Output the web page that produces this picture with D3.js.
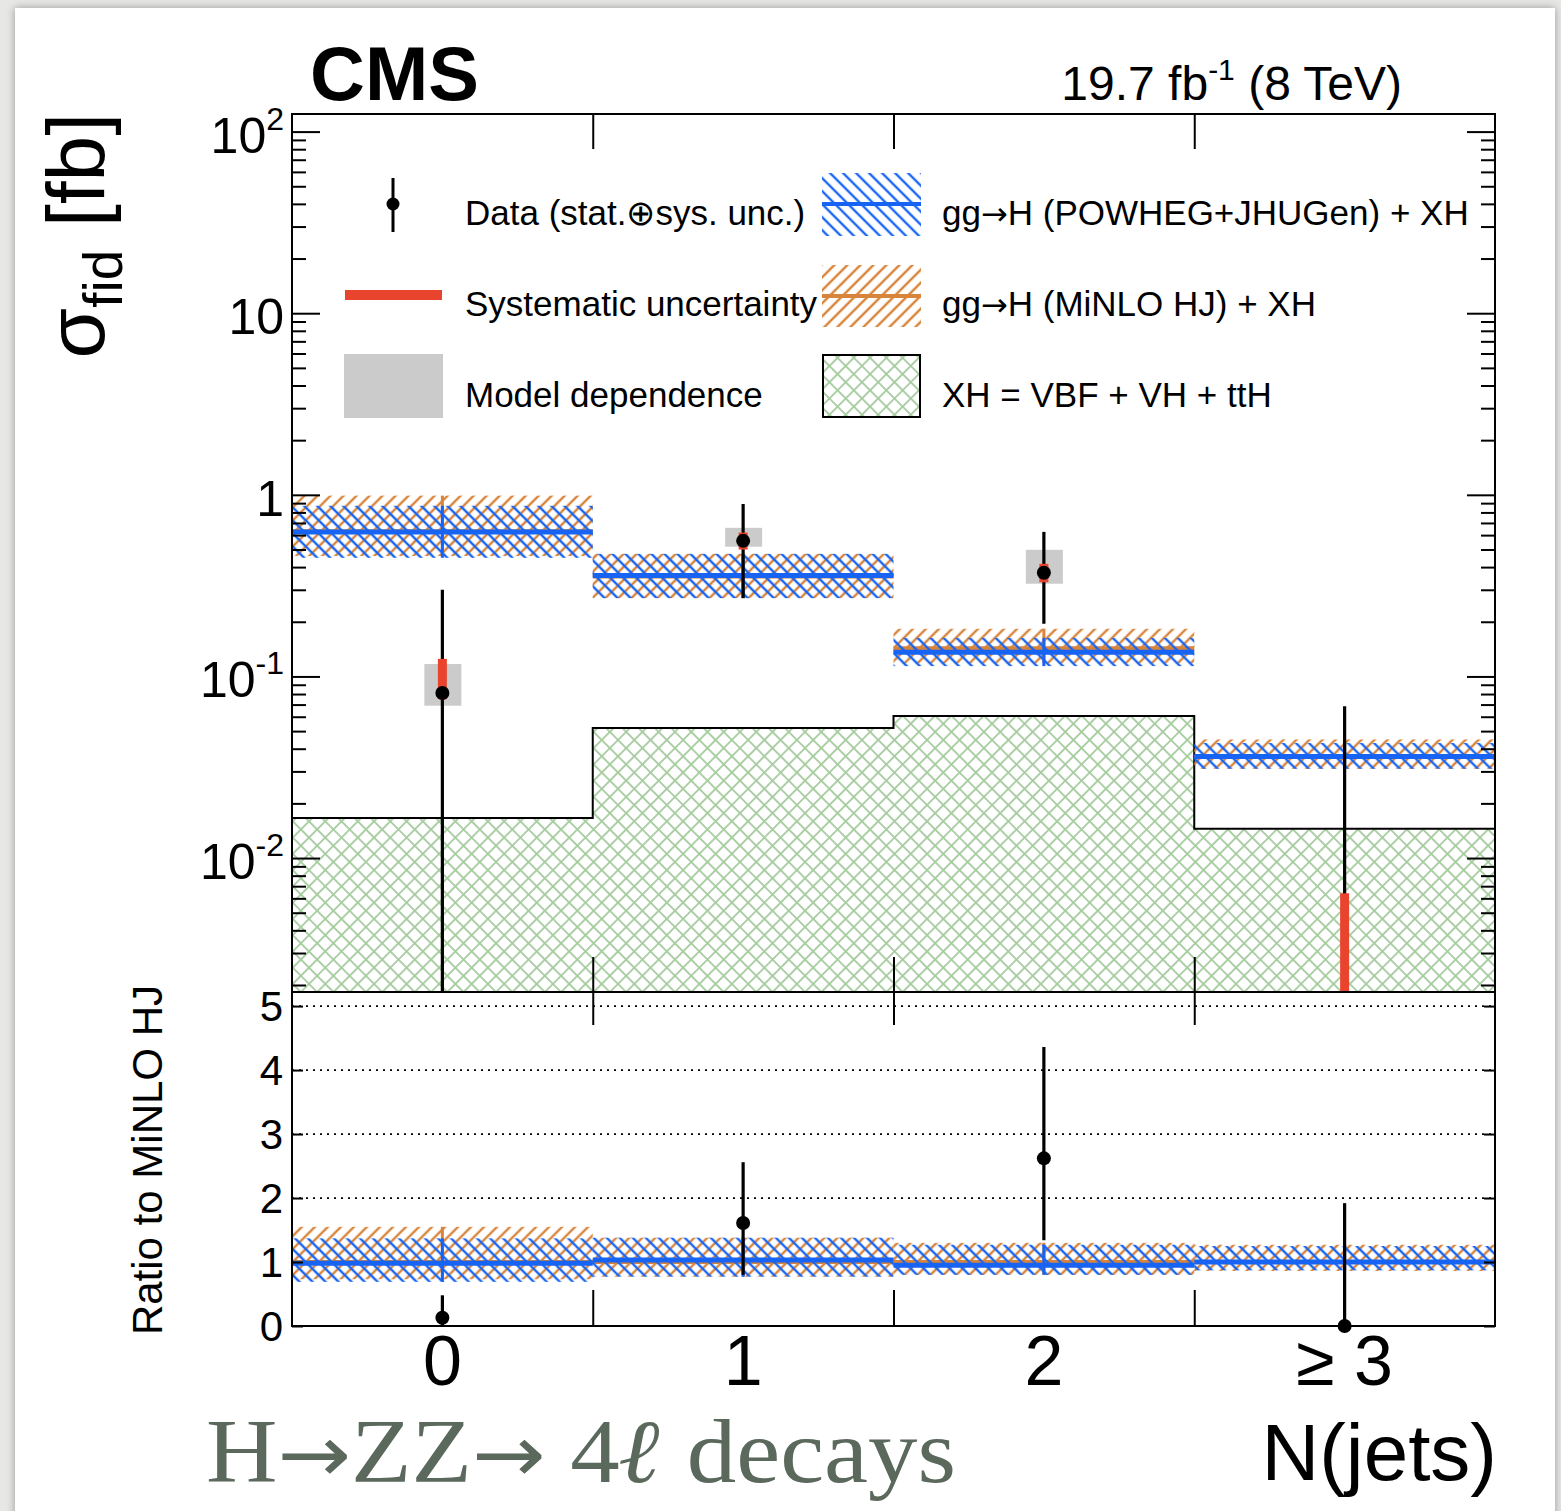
<!DOCTYPE html>
<html>
<head>
<meta charset="utf-8">
<script src="https://cdn.jsdelivr.net/npm/d3@7"></script>
<style>
  body { margin: 0; background: #e7e7e5; }
  svg { display: block; }
  text { font-family: "Liberation Sans", Arial, sans-serif; fill: #000; }
</style>
</head>
<body>
<div id="chart"></div>
<script>
// jet bins
var bins = ["0", "1", "2", "\u2265 3"];
var binCenters = [0, 1, 2, 3];
var binEdges = [0.5, 1.5, 2.5];

// predictions (fb)
var powheg   = [0.625, 0.36, 0.136, 0.0362];
var powhegLo = [0.45, 0.27, 0.114, 0.031];
var powhegHi = [0.87, 0.473, 0.163, 0.043];
var minlo    = [0.63, 0.355, 0.143, 0.036];
var minloLo  = [0.46, 0.27, 0.118, 0.031];
var minloHi  = [0.99, 0.473, 0.183, 0.045];
var xh       = [0.0166, 0.052, 0.0606, 0.0145];

// measurement (fb)
var dataVal = [0.081, 0.558, 0.372, 0];
var dataLo  = [0, 0.27, 0.195, 0];
var dataHi  = [0.30, 0.89, 0.625, 0.0686];
var systLo  = [0.075, 0.5, 0.33, 0];
var systHi  = [0.125, 0.62, 0.417, 0.0064];
var modelLo = [0.069, 0.518, 0.324, 0];
var modelHi = [0.117, 0.658, 0.498, 0];

// ratio to MiNLO HJ
var ratioVal = [0.13, 1.61, 2.62, 0];
var ratioLo  = [0, 0.8, 1.34, 0];
var ratioHi  = [0.48, 2.56, 4.36, 1.92];
var ratioPowheg   = [0.98, 1.03, 0.95, 1.0];
var ratioPowhegLo = [0.69, 0.77, 0.8, 0.87];
var ratioPowhegHi = [1.37, 1.38, 1.27, 1.25];
var ratioMinlo    = [1, 1, 1, 1];
var ratioMinloLo  = [0.73, 0.77, 0.8, 0.86];
var ratioMinloHi  = [1.55, 1.38, 1.3, 1.27];

// axis ticks
var upperTicks = [100, 10, 1, 0.1, 0.01];
var upperTickBase = ["10", "10", "1", "10", "10"];
var upperTickExp = ["2", "", "", "-1", "-2"];
var ratioTicks = [0, 1, 2, 3, 4, 5];

var BLUE = "#1764f4", ORANGE = "#d8843a", GREEN = "#a6cc9e", RED = "#e9442e", GRAY = "#cbcbcb";
var ARROW_FONT = "'DejaVu Sans', sans-serif";

function init()
{
  var W = 1561, H = 1511;
  var L = 292, R = 1495, T = 114, B1 = 992, B2 = 1326;

  var svg = d3.select("#chart").append("svg")
    .attr("width", W)
    .attr("height", H);

  var defs = svg.append("defs");

  var shadow = defs.append("filter").attr("id", "shadow")
    .attr("x", "-5%").attr("y", "-5%").attr("width", "110%").attr("height", "110%");
  shadow.append("feDropShadow")
    .attr("dx", 0).attr("dy", 0).attr("stdDeviation", 4)
    .attr("flood-color", "#000").attr("flood-opacity", 0.35);

  function hatch(id, color, angle, size, width, cross) {
    var p = defs.append("pattern")
      .attr("id", id)
      .attr("patternUnits", "userSpaceOnUse")
      .attr("width", size).attr("height", size)
      .attr("patternTransform", "rotate(" + angle + ")");
    p.append("line")
      .attr("x1", size / 2).attr("y1", 0).attr("x2", size / 2).attr("y2", size)
      .attr("stroke", color).attr("stroke-width", width);
    if (cross) {
      p.append("line")
        .attr("x1", 0).attr("y1", size / 2).attr("x2", size).attr("y2", size / 2)
        .attr("stroke", color).attr("stroke-width", width);
    }
  }
  hatch("hBlue", BLUE, -45, 9.2, 2.4, false);
  hatch("hOrange", ORANGE, 45, 9.2, 2.4, false);
  hatch("hGreen", GREEN, 45, 11.5, 1.8, true);

  // card background
  svg.append("rect")
    .attr("x", 15).attr("y", 8)
    .attr("width", 1540).attr("height", H + 20)
    .attr("fill", "#fff")
    .attr("filter", "url(#shadow)");

  var x = d3.scaleLinear().domain([-0.5, 3.5]).range([L, R]);
  var y = d3.scaleLog().domain([0.00183, 125]).range([B1, T]).clamp(true);
  var ry = d3.scaleLinear().domain([0, 5.22]).range([B2, B1]);
  var bw = x(1) - x(0);

  function yv(v) { return v <= 0 ? B1 : y(v); }

  // ---------- upper pad ----------
  var up = svg.append("g");

  // XH histogram
  var stepData = xh.map(function(v, i) { return {e: i - 0.5, v: v}; });
  stepData.push({e: 3.5, v: xh[xh.length - 1]});

  up.append("path")
    .datum(stepData)
    .attr("d", d3.area().curve(d3.curveStepAfter)
      .x(function(d) { return x(d.e); })
      .y0(B1)
      .y1(function(d) { return y(d.v); }))
    .attr("fill", "url(#hGreen)");

  up.append("path")
    .datum(stepData)
    .attr("d", d3.line().curve(d3.curveStepAfter)
      .x(function(d) { return x(d.e); })
      .y(function(d) { return y(d.v); }))
    .attr("fill", "none")
    .attr("stroke", "#000")
    .attr("stroke-width", 2);

  function drawPrediction(g, sy, val, lo, hi, color, pat, lw) {
    g.selectAll(null).data(binCenters).enter().append("rect")
      .attr("x", function(d) { return x(d - 0.5); })
      .attr("width", bw)
      .attr("y", function(d, i) { return sy(hi[i]); })
      .attr("height", function(d, i) { return sy(lo[i]) - sy(hi[i]); })
      .attr("fill", "url(#" + pat + ")");
    g.selectAll(null).data(binCenters).enter().append("line")
      .attr("x1", function(d) { return x(d); })
      .attr("x2", function(d) { return x(d); })
      .attr("y1", function(d, i) { return sy(hi[i]); })
      .attr("y2", function(d, i) { return sy(lo[i]); })
      .attr("stroke", color).attr("stroke-width", 3);
    g.selectAll(null).data(binCenters).enter().append("line")
      .attr("x1", function(d) { return x(d - 0.5); })
      .attr("x2", function(d) { return x(d + 0.5); })
      .attr("y1", function(d, i) { return sy(val[i]); })
      .attr("y2", function(d, i) { return sy(val[i]); })
      .attr("stroke", color).attr("stroke-width", lw);
  }

  drawPrediction(up, y, minlo, minloLo, minloHi, ORANGE, "hOrange", 4);
  drawPrediction(up, y, powheg, powhegLo, powhegHi, BLUE, "hBlue", 5);

  // model dependence boxes
  up.selectAll(null).data(binCenters.filter(function(d, i) { return modelHi[i] > 0; }))
    .enter().append("rect")
    .attr("x", function(d) { return x(d) - 18; })
    .attr("width", 37)
    .attr("y", function(d) { return y(modelHi[d]); })
    .attr("height", function(d) { return y(modelLo[d]) - y(modelHi[d]); })
    .attr("fill", GRAY);

  // total uncertainty
  up.selectAll(null).data(binCenters).enter().append("line")
    .attr("x1", function(d) { return x(d); })
    .attr("x2", function(d) { return x(d); })
    .attr("y1", function(d, i) { return yv(dataHi[i]); })
    .attr("y2", function(d, i) { return yv(dataLo[i]); })
    .attr("stroke", "#000").attr("stroke-width", 3.2);

  // systematic
  up.selectAll(null).data(binCenters).enter().append("line")
    .attr("x1", function(d) { return x(d); })
    .attr("x2", function(d) { return x(d); })
    .attr("y1", function(d, i) { return yv(systHi[i]); })
    .attr("y2", function(d, i) { return yv(systLo[i]); })
    .attr("stroke", RED).attr("stroke-width", 9);

  up.selectAll(null).data(binCenters.filter(function(d, i) { return dataVal[i] > 0; }))
    .enter().append("circle")
    .attr("cx", function(d) { return x(d); })
    .attr("cy", function(d) { return y(dataVal[d]); })
    .attr("r", 7)
    .attr("fill", "#000");

  // ---------- ratio pad ----------
  var lo = svg.append("g");

  lo.selectAll(null).data([1, 2, 3, 4, 5]).enter().append("line")
    .attr("x1", L).attr("x2", R)
    .attr("y1", function(d) { return ry(d); })
    .attr("y2", function(d) { return ry(d); })
    .attr("stroke", "#000").attr("stroke-width", 1.8)
    .attr("stroke-dasharray", "2,5");

  drawPrediction(lo, ry, ratioMinlo, ratioMinloLo, ratioMinloHi, ORANGE, "hOrange", 4);
  drawPrediction(lo, ry, ratioPowheg, ratioPowhegLo, ratioPowhegHi, BLUE, "hBlue", 5);

  lo.selectAll(null).data(binCenters).enter().append("line")
    .attr("x1", function(d) { return x(d); })
    .attr("x2", function(d) { return x(d); })
    .attr("y1", function(d, i) { return ry(ratioHi[i]); })
    .attr("y2", function(d, i) { return ry(ratioLo[i]); })
    .attr("stroke", "#000").attr("stroke-width", 3.2);

  lo.selectAll(null).data(binCenters).enter().append("circle")
    .attr("cx", function(d) { return x(d); })
    .attr("cy", function(d, i) { return ry(ratioVal[i]); })
    .attr("r", 7)
    .attr("fill", "#000");

  // ---------- axes ----------
  var minor = [];
  [0.001, 0.01, 0.1, 1, 10, 100].forEach(function(dec) {
    for (var k = 2; k <= 9; k++) {
      var v = k * dec;
      if (v > 0.00183 && v < 125) minor.push(v);
    }
  });

  function styleAxis(g) {
    g.select(".domain").remove();
    g.selectAll(".tick line").attr("stroke", "#000").attr("stroke-width", 2);
  }

  svg.append("g").attr("transform", "translate(" + L + ",0)")
    .call(d3.axisLeft(y).tickValues(upperTicks).tickSize(-28).tickFormat(""))
    .call(styleAxis);
  svg.append("g").attr("transform", "translate(" + L + ",0)")
    .call(d3.axisLeft(y).tickValues(minor).tickSize(-14).tickFormat(""))
    .call(styleAxis);
  svg.append("g").attr("transform", "translate(" + R + ",0)")
    .call(d3.axisRight(y).tickValues(upperTicks).tickSize(-28).tickFormat(""))
    .call(styleAxis);
  svg.append("g").attr("transform", "translate(" + R + ",0)")
    .call(d3.axisRight(y).tickValues(minor).tickSize(-14).tickFormat(""))
    .call(styleAxis);

  svg.append("g").attr("transform", "translate(0," + T + ")")
    .call(d3.axisTop(x).tickValues(binEdges).tickSize(-35).tickFormat(""))
    .call(styleAxis);
  svg.append("g").attr("transform", "translate(0," + B1 + ")")
    .call(d3.axisBottom(x).tickValues(binEdges).tickSize(-35).tickFormat(""))
    .call(styleAxis);
  svg.append("g").attr("transform", "translate(0," + B1 + ")")
    .call(d3.axisTop(x).tickValues(binEdges).tickSize(-33).tickFormat(""))
    .call(styleAxis);
  svg.append("g").attr("transform", "translate(0," + B2 + ")")
    .call(d3.axisBottom(x).tickValues(binEdges).tickSize(-36).tickFormat(""))
    .call(styleAxis);

  svg.append("g").attr("transform", "translate(" + L + ",0)")
    .call(d3.axisLeft(ry).tickValues(ratioTicks).tickSize(-11).tickFormat(""))
    .call(styleAxis);
  svg.append("g").attr("transform", "translate(" + R + ",0)")
    .call(d3.axisRight(ry).tickValues(ratioTicks).tickSize(-11).tickFormat(""))
    .call(styleAxis);

  // frames
  svg.append("rect")
    .attr("x", L).attr("y", T).attr("width", R - L).attr("height", B1 - T)
    .attr("fill", "none").attr("stroke", "#000").attr("stroke-width", 2);
  svg.append("rect")
    .attr("x", L).attr("y", B1).attr("width", R - L).attr("height", B2 - B1)
    .attr("fill", "none").attr("stroke", "#000").attr("stroke-width", 2);

  // tick labels
  upperTicks.forEach(function(v, i) {
    var t = svg.append("text")
      .attr("x", 284).attr("y", y(v) + 21)
      .attr("text-anchor", "end")
      .style("font-size", "50px");
    t.append("tspan").text(upperTickBase[i]);
    if (upperTickExp[i]) {
      t.append("tspan").attr("dy", -23).style("font-size", "32px").text(upperTickExp[i]);
    }
  });

  svg.selectAll(null).data(ratioTicks).enter().append("text")
    .attr("x", 283)
    .attr("y", function(d) { return ry(d) + 15; })
    .attr("text-anchor", "end")
    .style("font-size", "42px")
    .text(function(d) { return d; });

  svg.selectAll(null).data(binCenters).enter().append("text")
    .attr("x", function(d) { return x(d); })
    .attr("y", 1385)
    .attr("text-anchor", "middle")
    .style("font-size", "70px")
    .text(function(d, i) { return bins[i]; });

  // titles
  var yt = svg.append("text")
    .attr("transform", "translate(104,113) rotate(-90)")
    .attr("text-anchor", "end")
    .style("font-size", "82px");
  yt.append("tspan").text("\u03c3");
  yt.append("tspan").attr("dy", 18).style("font-size", "55px").text("fid");
  yt.append("tspan").attr("dy", -18).text(" [fb]");

  svg.append("text")
    .attr("transform", "translate(162,985) rotate(-90)")
    .attr("text-anchor", "end")
    .style("font-size", "42px")
    .text("Ratio to MiNLO HJ");

  svg.append("text")
    .attr("x", 1497).attr("y", 1480)
    .attr("text-anchor", "end")
    .style("font-size", "80px")
    .text("N(jets)");

  svg.append("text")
    .attr("x", 310).attr("y", 100)
    .style("font-size", "76px")
    .style("font-weight", "bold")
    .text("CMS");

  var lumi = svg.append("text")
    .attr("x", 1402).attr("y", 100)
    .attr("text-anchor", "end")
    .style("font-size", "48px");
  lumi.append("tspan").text("19.7 fb");
  lumi.append("tspan").attr("dy", -20).style("font-size", "30px").text("-1");
  lumi.append("tspan").attr("dy", 20).text(" (8 TeV)");

  var decay = svg.append("text")
    .attr("x", 206).attr("y", 1482)
    .attr("textLength", 750)
    .attr("lengthAdjust", "spacingAndGlyphs")
    .style("font-family", "'Liberation Serif', 'Times New Roman', serif")
    .style("font-size", "90px")
    .style("fill", "#5b695d");
  decay.append("tspan").text("H");
  decay.append("tspan").style("font-family", ARROW_FONT).style("font-size", "80px").text("\u2192");
  decay.append("tspan").text("ZZ");
  decay.append("tspan").style("font-family", ARROW_FONT).style("font-size", "80px").text("\u2192");
  decay.append("tspan").text(" 4");
  decay.append("tspan").style("font-family", "'DejaVu Serif', serif")
    .style("font-style", "italic").style("font-weight", "bold").text("\u2113");
  decay.append("tspan").text(" decays");

  // ---------- legend ----------
  var leg = svg.append("g");

  leg.append("line").attr("x1", 393).attr("x2", 393).attr("y1", 178).attr("y2", 232)
    .attr("stroke", "#000").attr("stroke-width", 3);
  leg.append("circle").attr("cx", 393).attr("cy", 204).attr("r", 6.5).attr("fill", "#000");

  leg.append("line").attr("x1", 345).attr("x2", 442).attr("y1", 295).attr("y2", 295)
    .attr("stroke", RED).attr("stroke-width", 10);

  leg.append("rect").attr("x", 344).attr("y", 354).attr("width", 99).attr("height", 64)
    .attr("fill", GRAY);

  leg.append("rect").attr("x", 822).attr("y", 173).attr("width", 99).attr("height", 63)
    .attr("fill", "url(#hBlue)");
  leg.append("line").attr("x1", 822).attr("x2", 921).attr("y1", 204).attr("y2", 204)
    .attr("stroke", BLUE).attr("stroke-width", 4);

  leg.append("rect").attr("x", 822).attr("y", 265).attr("width", 99).attr("height", 62)
    .attr("fill", "url(#hOrange)");
  leg.append("line").attr("x1", 822).attr("x2", 921).attr("y1", 296).attr("y2", 296)
    .attr("stroke", ORANGE).attr("stroke-width", 4);

  leg.append("rect").attr("x", 823).attr("y", 355).attr("width", 97).attr("height", 62)
    .attr("fill", "url(#hGreen)")
    .attr("stroke", "#000").attr("stroke-width", 2);

  var legText = [
    {x: 465, y: 225, parts: ["Data (stat.\u2295sys. unc.)"]},
    {x: 465, y: 316, parts: ["Systematic uncertainty"]},
    {x: 465, y: 407, parts: ["Model dependence"]},
    {x: 942, y: 225, parts: ["gg", "\u2192", "H (POWHEG+JHUGen) + XH"]},
    {x: 942, y: 316, parts: ["gg", "\u2192", "H (MiNLO HJ) + XH"]},
    {x: 942, y: 407, parts: ["XH = VBF + VH + ttH"]}
  ];
  leg.selectAll(null).data(legText).enter().append("text")
    .attr("x", function(d) { return d.x; })
    .attr("y", function(d) { return d.y; })
    .style("font-size", "35px")
    .each(function(d) {
      var t = d3.select(this);
      d.parts.forEach(function(p) {
        var s = t.append("tspan").text(p);
        if (p === "\u2192") s.style("font-family", ARROW_FONT).style("font-size", "32px");
      });
    });
}

window.onload = init();
</script>
</body>
</html>
